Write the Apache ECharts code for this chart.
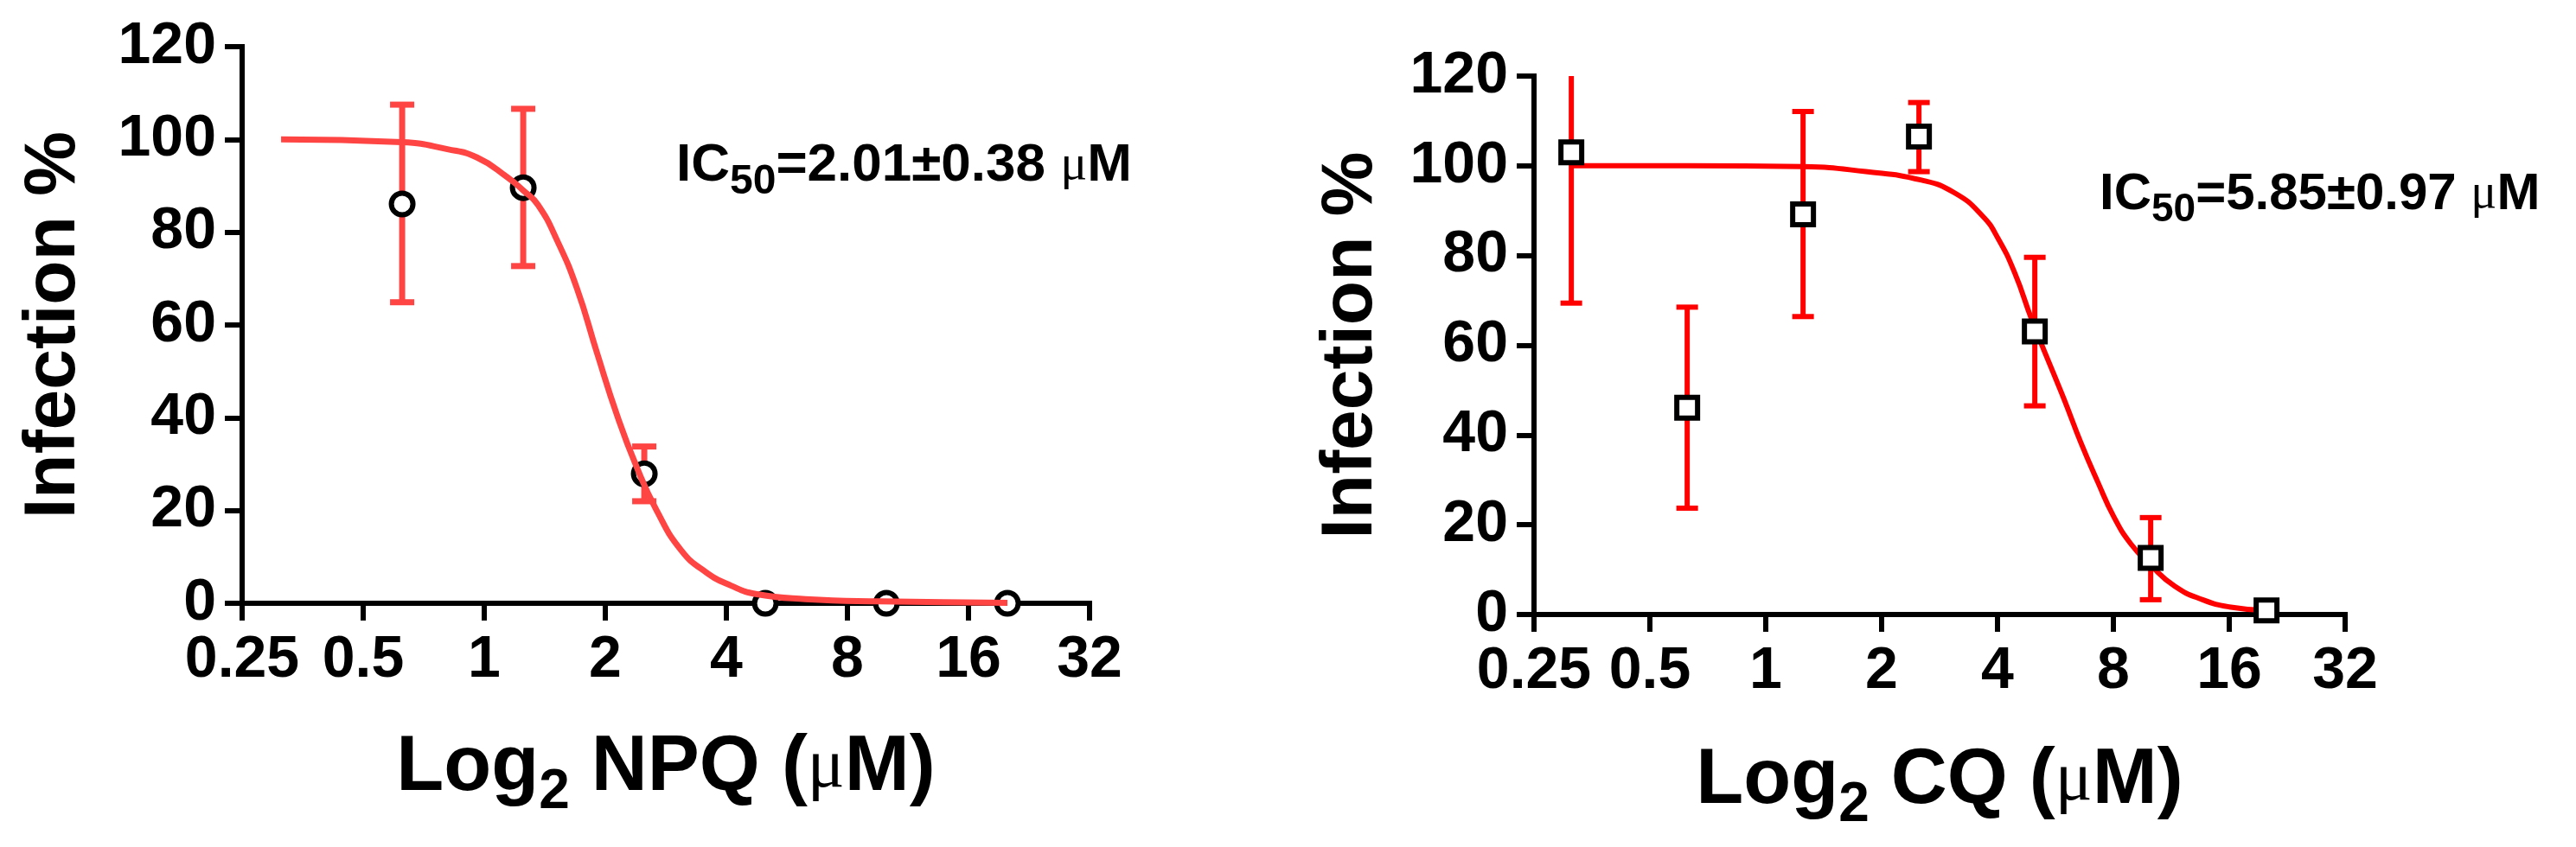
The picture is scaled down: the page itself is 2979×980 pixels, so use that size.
<!DOCTYPE html>
<html><head><meta charset="utf-8">
<script src="https://cdn.jsdelivr.net/npm/echarts@6/dist/echarts.min.js"></script>
<style>html,body{margin:0;padding:0;background:#fff}#c{width:2979px;height:980px}</style>
</head><body><div id="c"></div>
<script>
// ---- data ----
const xTickLabels = ['0.25', '0.5', '1', '2', '4', '8', '16', '32'];
const yTickLabels = ['0', '20', '40', '60', '80', '100', '120'];

// NPQ panel
const npqX    = [0.625, 1.25, 2.5, 5, 10, 20];
const npqMean = [86.1, 89.6, 27.9, 0, 0, 0];
const npqLow  = [64.9, 72.7, 22.0, null, null, null];
const npqHigh = [107.5, 106.6, 33.8, null, null, null];
const npqFitX = [0.3125, 0.625, 0.81, 0.96, 1.14, 1.25, 1.36, 1.52, 1.70, 1.91, 2.14, 2.39, 2.68, 3.09, 3.56, 4.11, 4.73, 6.3, 9.6, 20];
const npqFitY = [100, 99.4, 97.9, 96.1, 91.9, 89.0, 85.9, 78.1, 67.9, 53.8, 40.5, 29.5, 20.1, 11.4, 6.7, 3.8, 2.0, 0.9, 0.4, 0.1];

// CQ panel
const cqX    = [0.3125, 0.625, 1.25, 2.5, 5, 10, 20];
const cqMean = [103.0, 46.1, 89.2, 106.5, 63.1, 12.6, 0.9];
const cqLow  = [69.4, 23.7, 66.4, 98.7, 46.5, 3.3, null];
const cqHigh = [136.6, 68.5, 112.1, 114.1, 79.6, 21.6, null];
const cqFitX = [0.3125, 0.625, 1.25, 1.82, 2.54, 3.09, 3.65, 4.02, 4.44, 4.91, 5.60, 5.98, 6.6, 7.29, 8.02, 8.87, 10, 11.55, 13.64, 16, 20];
const cqFitY = [100, 100, 99.8, 98.7, 96.8, 94.0, 88.9, 83.7, 76.0, 65.7, 53.6, 47.6, 38.1, 29.5, 21.8, 15.8, 11.0, 6.3, 3.3, 1.7, 0.9];

const npqIC50 = 'IC50 = 2.01±0.38 μM';
const cqIC50  = 'IC50 = 5.85±0.97 μM';
// ---------------------------------------

const FONT = 'Liberation Sans';
const SERIF = 'Liberation Serif';

function pairs(xs, ys) { return xs.map((x, i) => [x, ys[i]]); }
function errData(xs, lo, hi) {
  const out = [];
  xs.forEach((x, i) => { if (lo[i] != null && hi[i] != null) out.push([x, lo[i], hi[i]]); });
  return out;
}
function errRender(color, lw, capW) {
  return function (params, api) {
    const x = api.value(0), lo = api.value(1), hi = api.value(2);
    const pLo = api.coord([x, lo]), pHi = api.coord([x, hi]);
    const h = capW / 2;
    const st = { stroke: color, lineWidth: lw, fill: null };
    return { type: 'group', children: [
      { type: 'line', shape: { x1: pLo[0], y1: pLo[1], x2: pHi[0], y2: pHi[1] }, style: st },
      { type: 'line', shape: { x1: pHi[0] - h, y1: pHi[1], x2: pHi[0] + h, y2: pHi[1] }, style: st },
      { type: 'line', shape: { x1: pLo[0] - h, y1: pLo[1], x2: pLo[0] + h, y2: pLo[1] }, style: st }
    ] };
  };
}
function xLabel(v) {
  const i = Math.round(Math.log2(v / Number(xTickLabels[0])));
  return xTickLabels[i] !== undefined ? xTickLabels[i] : '';
}
function yLabel(v) {
  const i = Math.round(v / Number(yTickLabels[1]));
  return yTickLabels[i] !== undefined ? yTickLabels[i] : '';
}

const axisLineStyle = { color: '#000', width: 6, cap: 'square' };
const tickStyle = { color: '#000', width: 6 };
const labelStyle = { color: '#000', fontFamily: FONT, fontWeight: 'bold', fontSize: 68 };

// rich styles: main text, lowered subscript, thin serif mu
function richSet(big, sub, subLH, subPad, mu) {
  return {
    a: { fontFamily: FONT, fontWeight: 'bold', fontSize: big, lineHeight: big, color: '#000' },
    s: { fontFamily: FONT, fontWeight: 'bold', fontSize: sub, lineHeight: subLH, padding: [subPad, 0, 0, 0], color: '#000' },
    m: { fontFamily: SERIF, fontWeight: 'normal', fontSize: mu, lineHeight: big, color: '#000' }
  };
}

function makeX(gridIndex, drug, gap) {
  return {
    type: 'log', logBase: 2, gridIndex,
    min: Number(xTickLabels[0]), max: Number(xTickLabels[xTickLabels.length - 1]),
    interval: 1, splitNumber: 7,
    axisLine: { show: true, onZero: false, lineStyle: axisLineStyle },
    axisTick: { show: true, length: 20, lineStyle: tickStyle },
    axisLabel: Object.assign({ margin: 32, formatter: xLabel, showMinLabel: true, showMaxLabel: true, hideOverlap: false }, labelStyle),
    splitLine: { show: false }, minorTick: { show: false },
    name: '{a|Log}{s|2}{a| ' + drug + ' (}{m|μ}{a|M)}',
    nameLocation: 'middle', nameGap: gap,
    nameTextStyle: { rich: richSet(90, 64, 30, 56, 80) }
  };
}
function makeY(gridIndex, gap) {
  return {
    type: 'value', gridIndex,
    min: Number(yTickLabels[0]), max: Number(yTickLabels[yTickLabels.length - 1]),
    interval: Number(yTickLabels[1]),
    axisLine: { show: true, lineStyle: axisLineStyle },
    axisTick: { show: true, length: 20, lineStyle: tickStyle },
    axisLabel: Object.assign({ margin: 30, formatter: yLabel }, labelStyle),
    splitLine: { show: false },
    name: 'Infection %', nameLocation: 'middle', nameGap: gap,
    nameTextStyle: { fontFamily: FONT, fontWeight: 'bold', fontSize: 84, color: '#000' }
  };
}

function icText(str, x, y, rich) {
  const rest = str.replace('IC50 = ', '=').replace(' μM', ' ');
  return {
    type: 'text', x, y,
    style: {
      text: '{a|IC}{s|50}{a|' + rest + '}{m|μ}{a|M}',
      rich,
      verticalAlign: 'top', align: 'left'
    }
  };
}

const chart = echarts.init(document.getElementById('c'), null, { renderer: 'canvas' });
chart.setOption({
  animation: false,
  backgroundColor: '#fff',
  grid: [
    { left: 280, top: 54, width: 980, height: 644, containLabel: false },
    { left: 1774, top: 88, width: 938, height: 623, containLabel: false }
  ],
  xAxis: [makeX(0, 'NPQ', 146), makeX(1, 'CQ', 148)],
  yAxis: [makeY(0, 175), makeY(1, 169)],
  series: [
    { type: 'custom', xAxisIndex: 0, yAxisIndex: 0, z: 1, clip: true,
      renderItem: errRender('#FF4444', 7, 28), encode: { x: 0, y: [1, 2] },
      data: errData(npqX, npqLow, npqHigh) },
    { type: 'scatter', xAxisIndex: 0, yAxisIndex: 0, z: 2, symbol: 'circle', symbolSize: 25,
      itemStyle: { color: '#fff', borderColor: '#000', borderWidth: 6, opacity: 1 },
      data: pairs(npqX, npqMean) },
    { type: 'line', xAxisIndex: 0, yAxisIndex: 0, z: 3, smooth: true, showSymbol: false,
      lineStyle: { color: '#FF4444', width: 7 }, data: pairs(npqFitX, npqFitY) },

    { type: 'custom', xAxisIndex: 1, yAxisIndex: 1, z: 1, clip: true,
      renderItem: errRender('#FF0000', 6, 25), encode: { x: 0, y: [1, 2] },
      data: errData(cqX, cqLow, cqHigh) },
    { type: 'line', xAxisIndex: 1, yAxisIndex: 1, z: 2, smooth: true, showSymbol: false,
      lineStyle: { color: '#FF0000', width: 6 }, data: pairs(cqFitX, cqFitY) },
    { type: 'scatter', xAxisIndex: 1, yAxisIndex: 1, z: 3, symbol: 'rect', symbolSize: 24,
      itemStyle: { color: '#fff', borderColor: '#000', borderWidth: 6, opacity: 1 },
      data: pairs(cqX, cqMean) }
  ],
  graphic: [
    icText(npqIC50, 782, 161, richSet(62, 48, 22, 38, 58)),
    icText(cqIC50, 2428, 195, richSet(60, 46, 22, 36, 56))
  ]
});
</script></body></html>
